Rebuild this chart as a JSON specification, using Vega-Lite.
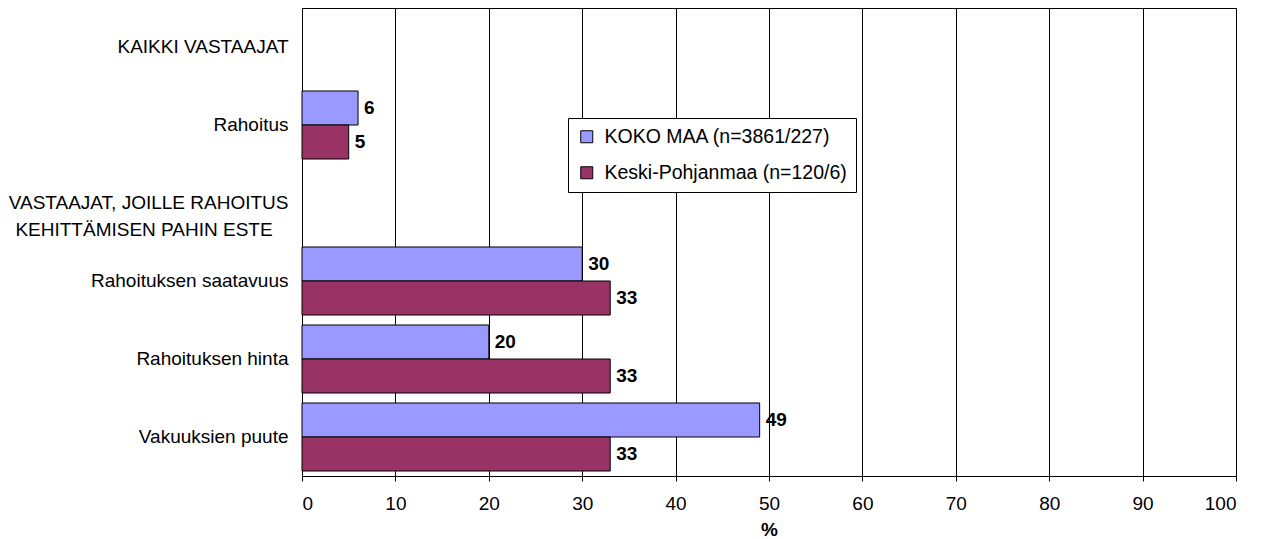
{
  "$schema": "https://vega.github.io/schema/vega-lite/v6.json",
  "autosize": {"type": "none"},
  "width": 934,
  "height": 468,
  "padding": {"left": 302, "top": 8, "right": 28, "bottom": 63},
  "background": "white",
  "config": {
    "font": "Liberation Sans",
    "view": {"stroke": "black", "strokeWidth": 1},
    "axis": {"labelFont": "Liberation Sans", "titleFont": "Liberation Sans", "labelColor": "black", "titleColor": "black", "domainColor": "black", "tickColor": "black"}
  },
  "data": {
    "values": [
      {"category": "Rahoitus", "series": "KOKO MAA (n=3861/227)", "value": 6},
      {"category": "Rahoitus", "series": "Keski-Pohjanmaa (n=120/6)", "value": 5},
      {"category": "Rahoituksen saatavuus", "series": "KOKO MAA (n=3861/227)", "value": 30},
      {"category": "Rahoituksen saatavuus", "series": "Keski-Pohjanmaa (n=120/6)", "value": 33},
      {"category": "Rahoituksen hinta", "series": "KOKO MAA (n=3861/227)", "value": 20},
      {"category": "Rahoituksen hinta", "series": "Keski-Pohjanmaa (n=120/6)", "value": 33},
      {"category": "Vakuuksien puute", "series": "KOKO MAA (n=3861/227)", "value": 49},
      {"category": "Vakuuksien puute", "series": "Keski-Pohjanmaa (n=120/6)", "value": 33}
    ]
  },
  "encoding": {
    "y": {
      "field": "category",
      "type": "nominal",
      "scale": {
        "domain": ["KAIKKI VASTAAJAT", "Rahoitus", "VASTAAJAT, JOILLE RAHOITUS|KEHITTÄMISEN PAHIN ESTE\u2007\u00a0\u200b", "Rahoituksen saatavuus", "Rahoituksen hinta", "Vakuuksien puute"],
        "paddingInner": 0.128,
        "paddingOuter": 0.064
      },
      "axis": {
        "title": null,
        "ticks": false,
        "labelFontSize": 19,
        "labelPadding": 14,
        "labelLimit": 400,
        "labelLineHeight": 27,
        "labelExpr": "split(datum.label, '|')",
        "domainColor": "black"
      }
    },
    "yOffset": {
      "field": "series",
      "type": "nominal",
      "scale": {"domain": ["KOKO MAA (n=3861/227)", "Keski-Pohjanmaa (n=120/6)"], "paddingInner": 0, "paddingOuter": 0}
    },
    "x": {
      "field": "value",
      "type": "quantitative",
      "scale": {"domain": [0, 100], "nice": false},
      "axis": {
        "title": "%",
        "titleFontSize": 19,
        "titleFontWeight": "bold",
        "titlePadding": 7,
        "labelFontSize": 19,
        "labelPadding": 13,
        "labelOverlap": false,
        "tickSize": 5,
        "values": [0, 10, 20, 30, 40, 50, 60, 70, 80, 90, 100],
        "grid": true,
        "gridColor": "black",
        "gridOpacity": 1,
        "gridWidth": 1
      }
    }
  },
  "layer": [
    {
      "mark": {"type": "bar", "stroke": "black", "strokeWidth": 1},
      "encoding": {
        "color": {
          "field": "series",
          "type": "nominal",
          "scale": {"domain": ["KOKO MAA (n=3861/227)", "Keski-Pohjanmaa (n=120/6)"], "range": ["#9999FF", "#993366"]},
          "legend": {
            "title": null,
            "orient": "none",
            "legendX": 266,
            "legendY": 110,
            "direction": "vertical",
            "padding": 9,
            "strokeColor": "black",
            "fillColor": "white",
            "symbolType": "square",
            "symbolSize": 144,
            "symbolStrokeColor": "black",
            "symbolStrokeWidth": 1,
            "symbolOpacity": 1,
            "labelFontSize": 19.5,
            "labelFont": "Liberation Sans",
            "labelColor": "black",
            "labelOffset": 8,
            "labelLimit": 400,
            "rowPadding": 15
          }
        }
      }
    },
    {
      "mark": {"type": "text", "align": "left", "baseline": "middle", "dx": 6, "fontSize": 19, "fontWeight": "bold", "font": "Liberation Sans", "color": "black"},
      "encoding": {"text": {"field": "value", "type": "quantitative"}}
    }
  ]
}
